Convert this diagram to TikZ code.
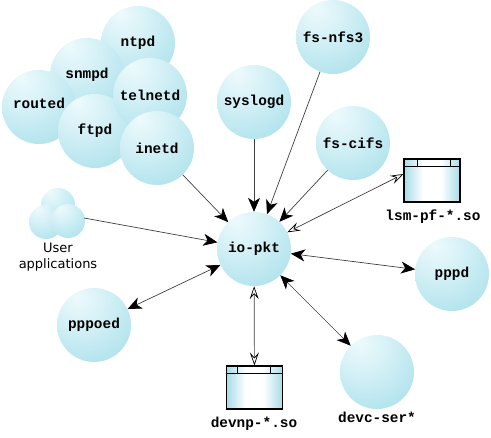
\documentclass[tikz,border=0pt]{standalone}
\usepackage{fontspec}
\setmainfont{DejaVu Sans}
\setmonofont{Liberation Mono}
\usetikzlibrary{arrows.meta}
\pgfdeclareradialshading{bubble}{\pgfpoint{-12bp}{20bp}}{
  rgb(0bp)=(0.93,0.98,0.99);
  rgb(15bp)=(0.85,0.95,0.97);
  rgb(36bp)=(0.72,0.90,0.935);
  rgb(56bp)=(0.63,0.85,0.90);
  rgb(100bp)=(0.60,0.83,0.89)}
\pgfdeclarehorizontalshading{libfill}{100bp}{
  rgb(0bp)=(1,1,1);
  rgb(25bp)=(0.65,0.86,0.91);
  rgb(42bp)=(1,1,1);
  rgb(58bp)=(1,1,1);
  rgb(75bp)=(0.65,0.86,0.91);
  rgb(100bp)=(0.65,0.86,0.91)}
\tikzset{
  sphere/.style={circle, minimum size=74pt, inner sep=0pt, shading=bubble, font=\ttfamily\bfseries\fontsize{14.4}{16}\selectfont},
  smallsphere/.style={sphere, minimum size=34pt},
  libbox/.style={rectangle, draw=black, line width=1.1pt, inner sep=0pt, minimum width=56pt, minimum height=43pt, shading=libfill},
  liblabel/.style={font=\ttfamily\bfseries\fontsize{14.4}{16}\selectfont},
  userlabel/.style={font=\fontsize{13}{16}\selectfont, align=center},
  conn/.style={draw=black!75, line width=0.7pt},
  solidends/.style={conn, >={Stealth[length=14pt,width=12pt,inset=4pt,black]}},
  openends/.style={conn, {Stealth[open,length=13pt,width=9pt,inset=5pt,black]}-{Stealth[open,length=13pt,width=9pt,inset=5pt,black]}}
}
\begin{document}
\begin{tikzpicture}[x=1pt, y=-1pt]
  \useasboundingbox (0,0) rectangle (491,438);
  % daemons
  \foreach \name/\pos/\lab in {ntpd/{138,43}/ntpd, snmpd/{87,75}/snmpd}
    \node[sphere] (\name) at (\pos) {\lab};
  \node[sphere, text depth=7pt] (routed) at (39,107) {routed};
  \foreach \name/\pos/\lab in {ftpd/{95,131}/ftpd, telnetd/{150,95}/telnetd, inetd/{157,148}/inetd,
      syslogd/{254,102}/syslogd, nfs/{333,37}/fs-nfs3, cifs/{353,143}/fs-cifs,
      iopkt/{254,249}/io-pkt, pppd/{452,274}/pppd, pppoed/{94,325}/pppoed}
    \node[sphere] (\name) at (\pos) {\lab};
  \node[sphere] (devc) at (377,372) {};
  \node[liblabel] (devclabel) at (377,417) {devc-ser*};
  % user applications
  \node[smallsphere] (usera) at (58,205) {};
  \node[smallsphere] (userb) at (46,222) {};
  \node[smallsphere] (userc) at (68,221) {};
  \node[userlabel] (userlabel) at (58,257) {User\\applications};
  \coordinate (userport) at (84,218);
  % shared objects
  \node[libbox] (lsm) at (432,180.5) {};
  \node[liblabel] (lsmlabel) at (433,217) {lsm-pf-*.so};
  \draw[line width=0.7pt] (404,166) -- (460,166) (417,159) -- (417,166) (450,159) -- (450,166);
  \node[libbox] (devnp) at (254.5,387.5) {};
  \node[liblabel] (devnplabel) at (254,424) {devnp-*.so};
  \draw[line width=0.7pt] (226.5,373) -- (282.5,373) (237.5,366) -- (237.5,373) (270.5,366) -- (270.5,373);
  % connectors
  \foreach \from in {inetd, syslogd, nfs, cifs}
    \draw[solidends, ->] (\from) -- (iopkt);
  \draw[solidends, ->] (userport) -- (iopkt);
  \draw[solidends, <->] (iopkt) -- (pppd);
  \draw[solidends, <->] (iopkt) -- (pppoed);
  \draw[solidends, <->] (iopkt) -- (devc);
  \draw[openends] (iopkt) -- ([yshift=6.5pt]lsm.west);
  \draw[openends] (iopkt) -- (devnp);
\end{tikzpicture}
\end{document}
